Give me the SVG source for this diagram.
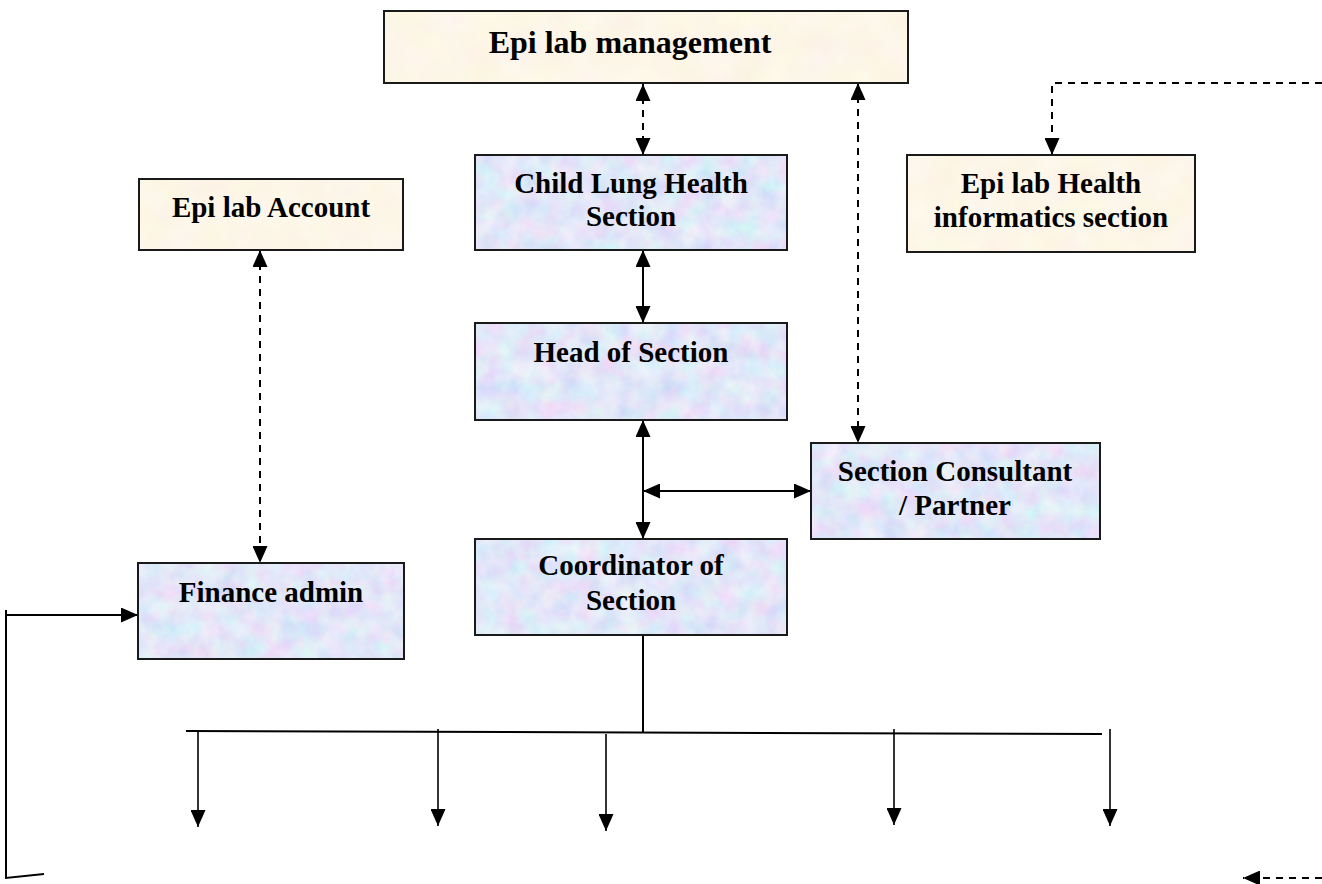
<svg xmlns="http://www.w3.org/2000/svg" width="1322" height="884" viewBox="0 0 1322 884">
<style>
  .lbl { font-family: "Liberation Serif", "Times New Roman", serif; font-weight: bold; font-size: 29px; fill: #000; text-anchor: middle; }
  .big { font-size: 32px; }
  .border { fill: none; stroke: #1a1a1a; stroke-width: 2; }
  .beige { fill: #fbefd3; filter: url(#texBeige); }
  .blue { fill: #c8d2f0; filter: url(#texBlue); }
  .ln { fill: none; stroke: #000; stroke-width: 2; }
  .thin { fill: none; stroke: #000; stroke-width: 1.6; }
  .dash { stroke-dasharray: 7 6; }
  .both { marker-start: url(#ah); marker-end: url(#ah); }
  .end { marker-end: url(#ah); }
</style>
<defs>
  <marker id="ah" viewBox="0 0 17 15" markerWidth="17" markerHeight="15" refX="17" refY="7.5" orient="auto-start-reverse" markerUnits="userSpaceOnUse">
    <path d="M0,0 L17,7.5 L0,15 z" fill="#000"/>
  </marker>
  <filter id="texBlue" x="0" y="0" width="100%" height="100%">
    <feTurbulence type="fractalNoise" baseFrequency="0.05" numOctaves="3" seed="7" result="n"/>
    <feColorMatrix in="n" type="matrix" values="0.4 0 0 0 0.56  0 0.35 0 0 0.62  0 0 0.1 0 0.89  0 0 0 0 1" result="c"/>
    <feComposite in="c" in2="SourceGraphic" operator="in"/>
  </filter>
  <filter id="texBeige" x="0" y="0" width="100%" height="100%">
    <feTurbulence type="fractalNoise" baseFrequency="0.03" numOctaves="2" seed="3" result="n"/>
    <feColorMatrix in="n" type="matrix" values="0.04 0 0 0 0.96  0 0.1 0 0 0.87  0 0 0.15 0 0.73  0 0 0 0 1" result="c"/>
    <feComposite in="c" in2="SourceGraphic" operator="in"/>
  </filter>
</defs>
<rect width="1322" height="884" fill="#fff"/>

<g id="connectors">
  <line class="ln dash both" x1="643" y1="84" x2="643" y2="155"/>
  <line class="ln dash both" x1="858" y1="83" x2="858" y2="443"/>
  <line class="ln dash both" x1="260" y1="250" x2="260" y2="563"/>
  <line class="ln both" x1="643" y1="250" x2="643" y2="323"/>
  <line class="ln both" x1="643" y1="420" x2="643" y2="539"/>
  <line class="ln both" x1="643" y1="491" x2="811" y2="491"/>
  <line class="ln" x1="643" y1="635" x2="643" y2="732"/>
  <line class="ln" x1="186" y1="731" x2="1102" y2="734"/>
  <line class="thin end" x1="198" y1="732" x2="198" y2="827"/>
  <line class="thin end" x1="438" y1="729" x2="438" y2="826"/>
  <line class="thin end" x1="606" y1="734" x2="606" y2="831"/>
  <line class="thin end" x1="894" y1="729" x2="894" y2="825"/>
  <line class="thin end" x1="1110" y1="729" x2="1110" y2="826"/>
  <path class="ln dash end" d="M1322,83 H1052 V155"/>
  <path class="ln" d="M6,610 V878 L44,874"/>
  <path class="ln end" d="M6,615 H138"/>
  <path class="ln dash end" d="M1322,878 H1243"/>
</g>

<g id="mgmt">
  <rect class="beige" x="384" y="11" width="524" height="72"/>
  <rect class="border" x="384" y="11" width="524" height="72"/>
  <text class="lbl big" x="630" y="53">Epi lab management</text>
</g>
<g id="account">
  <rect class="beige" x="139" y="179" width="264" height="71"/>
  <rect class="border" x="139" y="179" width="264" height="71"/>
  <text class="lbl" x="271" y="217">Epi lab Account</text>
</g>
<g id="childlung">
  <rect class="blue" x="475" y="155" width="312" height="95"/>
  <rect class="border" x="475" y="155" width="312" height="95"/>
  <text class="lbl" x="631" y="193">Child Lung Health</text>
  <text class="lbl" x="631" y="226">Section</text>
</g>
<g id="informatics">
  <rect class="beige" x="907" y="155" width="288" height="97"/>
  <rect class="border" x="907" y="155" width="288" height="97"/>
  <text class="lbl" x="1051" y="193">Epi lab Health</text>
  <text class="lbl" x="1051" y="227">informatics section</text>
</g>
<g id="head">
  <rect class="blue" x="475" y="323" width="312" height="97"/>
  <rect class="border" x="475" y="323" width="312" height="97"/>
  <text class="lbl" x="631" y="362">Head of Section</text>
</g>
<g id="consultant">
  <rect class="blue" x="811" y="443" width="289" height="96"/>
  <rect class="border" x="811" y="443" width="289" height="96"/>
  <text class="lbl" x="955" y="481">Section Consultant</text>
  <text class="lbl" x="955" y="515">/ Partner</text>
</g>
<g id="coordinator">
  <rect class="blue" x="475" y="539" width="312" height="96"/>
  <rect class="border" x="475" y="539" width="312" height="96"/>
  <text class="lbl" x="631" y="575">Coordinator of</text>
  <text class="lbl" x="631" y="610">Section</text>
</g>
<g id="finance">
  <rect class="blue" x="138" y="563" width="266" height="96"/>
  <rect class="border" x="138" y="563" width="266" height="96"/>
  <text class="lbl" x="271" y="602">Finance admin</text>
</g>
</svg>
